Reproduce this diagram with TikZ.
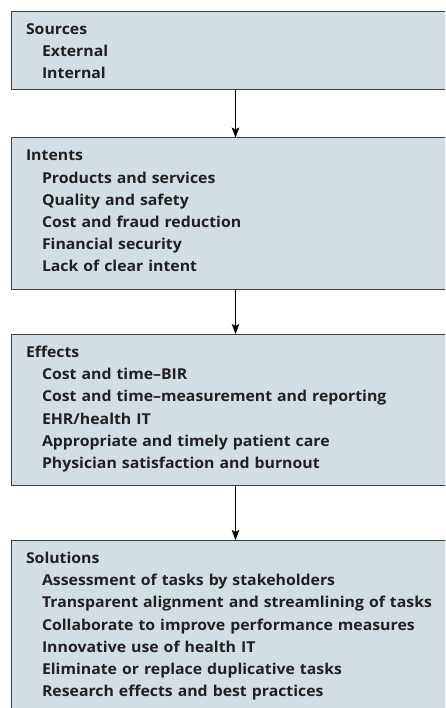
\documentclass[tikz,border=0pt]{standalone}
\usepackage{fontspec}
\setmainfont{Open Sans}[FakeStretch=1.055]
\usepackage{xcolor}
\usepackage{tikz}
\usetikzlibrary{positioning,arrows.meta}

\definecolor{boxfill}{HTML}{D2DEE3}
\definecolor{boxline}{HTML}{404040}
\definecolor{inktext}{HTML}{231F20}
\newcommand{\indline}{\hspace*{16pt}}

\begin{document}
\begin{tikzpicture}[x=1pt, y=1pt,
    box/.style={draw=boxline, fill=boxfill, line width=1pt,
        text width=419pt, inner xsep=14.5pt, inner ysep=0pt, align=left,
        text=inktext, font=\fontsize{15}{22.2}\selectfont\bfseries,
        text height=23pt},
    flow/.style={-{Stealth[length=10pt, width=7.5pt, inset=2pt]}, line width=0.8pt, black}]
    \useasboundingbox (0,0) rectangle (445,-708);
    \clip (0,0) rectangle (445,-708);
    % four stages
    \node[box, text depth=55pt, anchor=north west] (sources) at (11,-11) {Sources\\
        \indline External\\
        \indline Internal};
    \node[box, text depth=128pt, below=47.5pt of sources] (intents) {Intents\\
        \indline Products and services\\
        \indline Quality and safety\\
        \indline Cost and fraud reduction\\
        \indline Financial security\\
        \indline Lack of clear intent};
    \node[box, text depth=128pt, below=44.5pt of intents] (effects) {Effects\\
        \indline Cost and time–BIR\\
        \indline Cost and time–measurement and reporting\\
        \indline EHR/health IT\\
        \indline Appropriate and timely patient care\\
        \indline Physician satisfaction and burnout};
    \node[box, text depth=150pt, below=54pt of effects] (solutions) {Solutions\\
        \indline Assessment of tasks by stakeholders\\
        \indline Transparent alignment and streamlining of tasks\\
        \indline Collaborate to improve performance measures\\
        \indline Innovative use of health IT\\
        \indline Eliminate or replace duplicative tasks\\
        \indline Research effects and best practices};
    % connectors
    \draw[flow] (sources) -- (intents);
    \draw[flow] (intents) -- (effects);
    \draw[flow] (effects) -- (solutions);
\end{tikzpicture}
\end{document}
